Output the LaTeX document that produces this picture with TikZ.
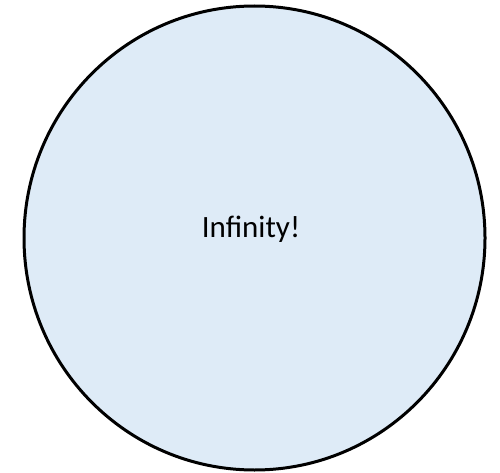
\documentclass[tikz,border=0pt]{standalone}
\usepackage{fontspec}
\setmainfont{Carlito}
\definecolor{paleblue}{RGB}{222,235,247}
\begin{document}
\begin{tikzpicture}[
            x=1pt,
            y=-1pt,
            caption/.style={font=\fontsize{31}{36}\selectfont, inner sep=0pt}
        ]
        \useasboundingbox (0,0) rectangle (500,473);
        \coordinate (O) at (254.5,238);
        \draw[line width=3pt, fill=paleblue] (O) ellipse [x radius=230.5pt, y radius=232pt];
        \node[caption] (inf) at (251,229) {Infinity!};
    \end{tikzpicture}
\end{document}
